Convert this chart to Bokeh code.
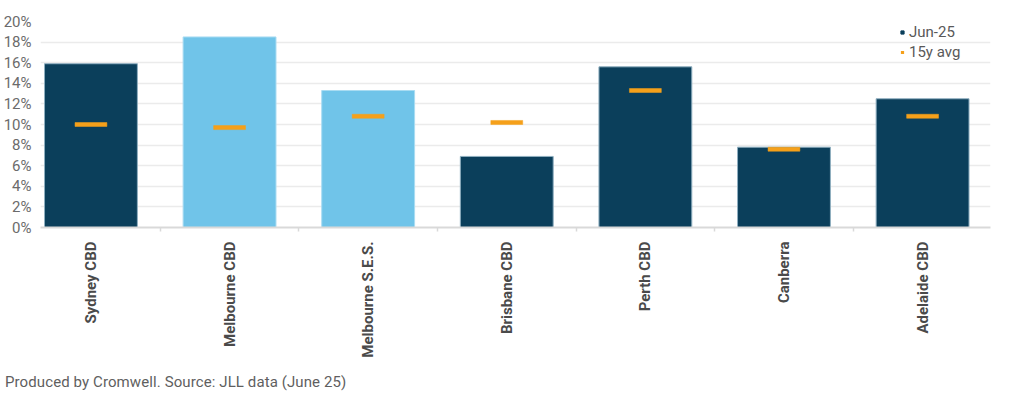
import math
from bokeh.plotting import figure
from bokeh.models import (ColumnDataSource, Range1d, SingleIntervalTicker, FixedTicker,
                          PrintfTickFormatter, Legend, LegendItem, Div)
from bokeh.layouts import column
from bokeh.embed import file_html
from bokeh.resources import INLINE

# ---- data ----
categories = ["Sydney CBD", "Melbourne CBD", "Melbourne S.E.S.", "Brisbane CBD",
              "Perth CBD", "Canberra", "Adelaide CBD"]
jun25 = [15.9, 18.5, 13.3, 6.9, 15.6, 7.8, 12.5]
avg15y = [10.0, 9.7, 10.8, 10.2, 13.3, 7.6, 10.8]
melbourne = [False, True, True, False, False, False, False]
series_names = ["Jun-25", "15y avg"]
footer_text = "Produced by Cromwell. Source: JLL data (June 25)"

NAVY = "#0B3F5B"
LIGHT = "#70C4E9"
ORANGE = "#F5A01A"
FONT = "Roboto"

idx = list(range(len(categories)))
boundaries = [i + 0.5 for i in idx]
bar_colors = [LIGHT if m else NAVY for m in melbourne]
bar_lines = ["#A9DCF2" if m else "#8FAFC0" for m in melbourne]

src = ColumnDataSource(dict(x=idx, cat=categories, val=jun25, avg=avg15y,
                            color=bar_colors, line=bar_lines))

p = figure(width=1006, height=369, x_range=Range1d(-0.364, 6.49),
           y_range=Range1d(0, 20), output_backend="svg", toolbar_location=None,
           min_border_left=30, min_border_right=16, min_border_top=21,
           min_border_bottom=142)
p.outline_line_color = None

p.vbar(x="x", top="val", width=0.67, source=src, fill_color="color",
       line_color="line", line_width=1)
p.rect(x="x", y="avg", width=0.23, height=4, height_units="screen",
       source=src, fill_color=ORANGE, line_color=ORANGE, line_width=0.5)

# legend proxies (not drawn in the frame: y is NaN)
proxy = ColumnDataSource(dict(x=[0], y=[float("nan")]))
r1 = p.scatter(x="x", y="y", source=proxy, marker="square", size=7,
               fill_color=NAVY, line_color=NAVY)
r2 = p.scatter(x="x", y="y", source=proxy, marker="dash", size=7,
               line_color=ORANGE, line_width=3)
legend = Legend(items=[LegendItem(label=series_names[0], renderers=[r1]),
                       LegendItem(label=series_names[1], renderers=[r2])],
                location=(858, 166), orientation="vertical",
                border_line_color=None, background_fill_alpha=0,
                padding=2, spacing=2, glyph_width=8, glyph_height=16,
                label_height=16, label_standoff=3,
                label_text_font=FONT, label_text_font_size="15px",
                label_text_color="#595959")
p.add_layout(legend)

# y axis
p.yaxis.ticker = SingleIntervalTicker(interval=2)
p.yaxis.formatter = PrintfTickFormatter(format="%d%%")
p.yaxis.axis_line_color = None
p.yaxis.major_tick_line_color = None
p.yaxis.minor_tick_line_color = None
p.yaxis.major_label_standoff = 3
p.yaxis.major_label_text_font = FONT
p.yaxis.major_label_text_font_size = "15px"
p.yaxis.major_label_text_color = "#6B6B6B"

# x axis
p.xaxis.ticker = FixedTicker(ticks=idx, minor_ticks=boundaries)
p.xaxis.major_label_overrides = {i: c for i, c in zip(idx, categories)}
p.xaxis.axis_line_color = "#D9D9D9"
p.xaxis.axis_line_width = 2
p.xaxis.major_tick_line_color = None
p.xaxis.minor_tick_line_color = "#D9D9D9"
p.xaxis.minor_tick_line_width = 1.5
p.xaxis.minor_tick_in = 0
p.xaxis.minor_tick_out = 4
p.xaxis.major_label_orientation = math.pi / 2
p.xaxis.major_label_standoff = 8
p.xaxis.major_label_text_font = FONT
p.xaxis.major_label_text_font_style = "bold"
p.xaxis.major_label_text_font_size = "15px"
p.xaxis.major_label_text_color = "#4A4A4A"

p.xgrid.grid_line_color = None
p.ygrid.grid_line_color = "#EBEBEB"
p.ygrid.grid_line_width = 1.5

footer = Div(text=footer_text, width=1000, height=20,
             styles={"font-family": FONT, "font-size": "15px", "color": "#5F5F5F",
                     "letter-spacing": "0.1px", "line-height": "16px"})

layout = column(p, footer, spacing=0)
open("out.html", "w").write(file_html(layout, INLINE))
